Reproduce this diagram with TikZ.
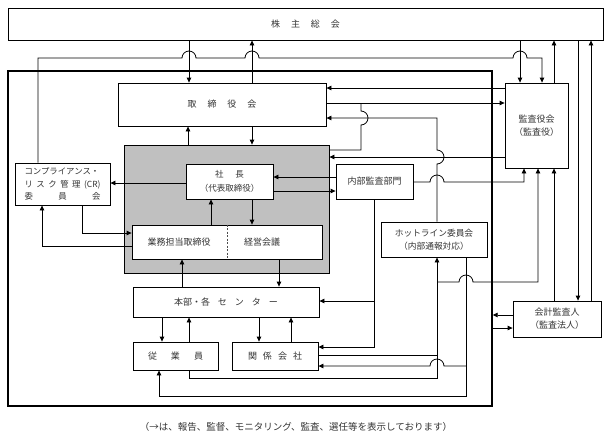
\documentclass[tikz,border=0pt]{standalone}
\usepackage{fontspec}
\newfontfamily\jp{Noto Sans CJK JP}
\usetikzlibrary{arrows.meta}
\newcommand\gp[1]{\hspace{#1pt}}
\definecolor{txt}{HTML}{333333}
\definecolor{grayfill}{HTML}{C0C0C0}
\tikzset{
  box/.style={draw=black, line width=0.8pt, fill=white, inner sep=0pt, align=center, text=txt,
    font=\jp\fontsize{9}{13}\selectfont},
  lbl/.style={inner sep=0pt, align=center, text=txt, font=\jp\fontsize{9}{13}\selectfont},
  conn/.style={draw=black, line width=0.8pt},
  arr/.style={conn, -{Triangle[length=5pt,width=4.5pt]}},
  jr/.style={radius=7pt}
}
\begin{document}
\begin{tikzpicture}[x=1pt,y=-1pt]
\useasboundingbox (0,0) rectangle (613,445);
% outer frame
\node[draw=black, line width=1.4pt, minimum width=484pt, minimum height=335pt, inner sep=0pt] (outer) at (250,238.5) {};
% gray management block
\node[draw=black, line width=0.8pt, fill=grayfill, minimum width=205pt, minimum height=128pt, inner sep=0pt] (gray) at (226.5,209) {};
% boxes
\node[box, minimum width=595pt, minimum height=32pt] (top) at (305.5,24) {株\gp{11}主\gp{11}総\gp{11}会};
\node[box, minimum width=208pt, minimum height=43pt] (bod) at (222,104.5) {取\gp{11}締\gp{11}役\gp{11}会};
\node[box, minimum width=87pt, minimum height=35pt, font=\jp\fontsize{8.5}{14}\selectfont] (pres) at (229.5,181.5) {社\gp{12}長\\（代表取締役）};
\node[box, minimum width=190pt, minimum height=34pt] (exec) at (227,242) {};
\node[lbl] (ex1) at (179,242) {業務担当取締役};
\node[lbl] (ex2) at (262,242) {経営会議};
\node[box, minimum width=95pt, minimum height=42pt, font=\jp\fontsize{8.4}{12.5}\selectfont] (cr) at (62.5,184)
  {\makebox[76pt][s]{コンプライアンス・}\\\makebox[76pt][s]{リ\hfill ス\hfill ク\hfill 管\hfill 理\hfill (CR)}\\\makebox[76pt][s]{委\hfill 員\hfill 会}};
\node[box, minimum width=77pt, minimum height=35pt] (ia) at (374.5,181.5) {内部監査部門};
\node[box, minimum width=63pt, minimum height=85pt, font=\jp\fontsize{9}{13}\selectfont] (kan) at (536.5,125.5) {監査役会\\（監査役）};
\node[box, minimum width=106pt, minimum height=35pt, font=\jp\fontsize{8.7}{13}\selectfont] (hot) at (434,239.5) {ホットライン委員会\\（内部通報対応）};
\node[box, minimum width=186pt, minimum height=30pt] (hq) at (226,302) {本部・各\gp{8}セ\gp{8}ン\gp{8}タ\gp{8}ー};
\node[box, minimum width=85pt, minimum height=28pt] (emp) at (175.5,356) {従\gp{14}業\gp{14}員};
\node[box, minimum width=86pt, minimum height=28pt] (aff) at (275,356) {関\gp{6}係\gp{6}会\gp{6}社};
\node[box, minimum width=88pt, minimum height=36pt] (acc) at (557,319) {会計監査人\\（監査法人）};
\node[lbl, font=\jp\fontsize{9.5}{12}\selectfont] (cap) at (296,427) {（→は、報告、監督、モニタリング、監査、選任等を表示しております）};
% divider
\draw[line width=0.8pt, dash pattern=on 2pt off 1.5pt, draw=black!70] (exec.north -| 227,0) -- (exec.south -| 227,0);
% junction coordinates
\coordinate (j1) at (374,301);
\coordinate (j2) at (437,282);
\coordinate (j3) at (466,366);
% connectors: shareholders
\draw[arr] (top.south -| 189,0) -- (bod.north -| 189,0);
\draw[arr] (bod.north -| 252,0) -- (top.south -| 252,0);
\draw[arr] (cr.north -| 38,0) -- (38,58) -- (182,58) arc[start angle=180,end angle=0,jr] -- (245,58) arc[start angle=180,end angle=0,jr] -- (513,58) arc[start angle=180,end angle=0,jr] -- (542,58) -- (kan.north -| 542,0);
\draw[arr] (top.south -| 520,0) -- (kan.north -| 520,0);
\draw[arr] (kan.north -| 554,0) -- (top.south -| 554,0);
\draw[arr] (top.south -| 578,0) -- (acc.north -| 578,0);
\draw[arr] (acc.north -| 591,0) -- (top.south -| 591,0);
\draw[arr] (acc.north -| 554,0) -- (kan.south -| 554,0);
% board
\draw[arr] (bod.south -| 252,0) -- (gray.north -| 252,0);
\draw[arr] (gray.north -| 188,0) -- (bod.south -| 188,0);
\draw[arr] (kan.west |- 0,88) -- (bod.east |- 0,88);
\draw[arr] (bod.east |- 0,103) -- (kan.west |- 0,103);
\draw[conn] (gray.east |- 0,150) -- (361,150) -- (361,125) arc[start angle=-90,end angle=90,jr] -- (361,103);
\draw[arr] (hot.north -| 437,0) -- (437,164) arc[start angle=-90,end angle=90,jr] -- (437,118) -- (bod.east |- 0,118);
\draw[arr] (kan.west |- 0,157) -- (gray.east |- 0,157);
% president
\draw[arr] (pres.west |- 0,183) -- (cr.east |- 0,183);
\draw[arr] (ia.west |- 0,177) -- (pres.east |- 0,177);
\draw[arr] (pres.east |- 0,191) -- (ia.west |- 0,191);
\draw[arr] (ia.east |- 0,182) -- (430,182) arc[start angle=180,end angle=0,jr] -- (524,182) -- (kan.south -| 524,0);
\draw[arr] (exec.north -| 211,0) -- (pres.south -| 211,0);
\draw[arr] (pres.south -| 252,0) -- (exec.north -| 252,0);
% CR
\draw[arr] (exec.west |- 0,246) -- (42,246) -- (cr.south -| 42,0);
\draw[arr] (cr.south -| 82,0) -- (82,233) -- (exec.west |- 0,233);
% headquarters
\draw[arr] (hq.north -| 182,0) -- (exec.south -| 182,0);
\draw[arr] (exec.south -| 279,0) -- (hq.north -| 279,0);
\draw[arr] (ia.south -| 374,0) -- (374,347) -- (aff.east |- 0,347);
\draw[arr] (j1) -- (hq.east |- 0,301);
\draw[arr] (hq.south -| 162,0) -- (emp.north -| 162,0);
\draw[arr] (emp.north -| 189,0) -- (hq.south -| 189,0);
\draw[arr] (hq.south -| 259,0) -- (aff.north -| 259,0);
\draw[arr] (aff.north -| 291,0) -- (hq.south -| 291,0);
% hotline
\draw[conn] (aff.east |- 0,355) -- (437,355);
\draw[arr] (emp.south -| 189,0) -- (189,378) -- (437,378) -- (hot.south -| 437,0);
\draw[arr] (j2) -- (459,282) arc[start angle=180,end angle=0,jr] -- (538,282) -- (kan.south -| 538,0);
\draw[arr] (hot.south -| 466,0) -- (466,396) -- (159,396) -- (emp.south -| 159,0);
\draw[arr] (j3) -- (444,366) arc[start angle=0,end angle=180,jr] -- (aff.east |- 0,366);
% auditor
\draw[arr] (acc.west |- 0,315) -- (outer.east |- 0,315);
\draw[arr] (outer.east |- 0,328) -- (acc.west |- 0,328);
\end{tikzpicture}
\end{document}
